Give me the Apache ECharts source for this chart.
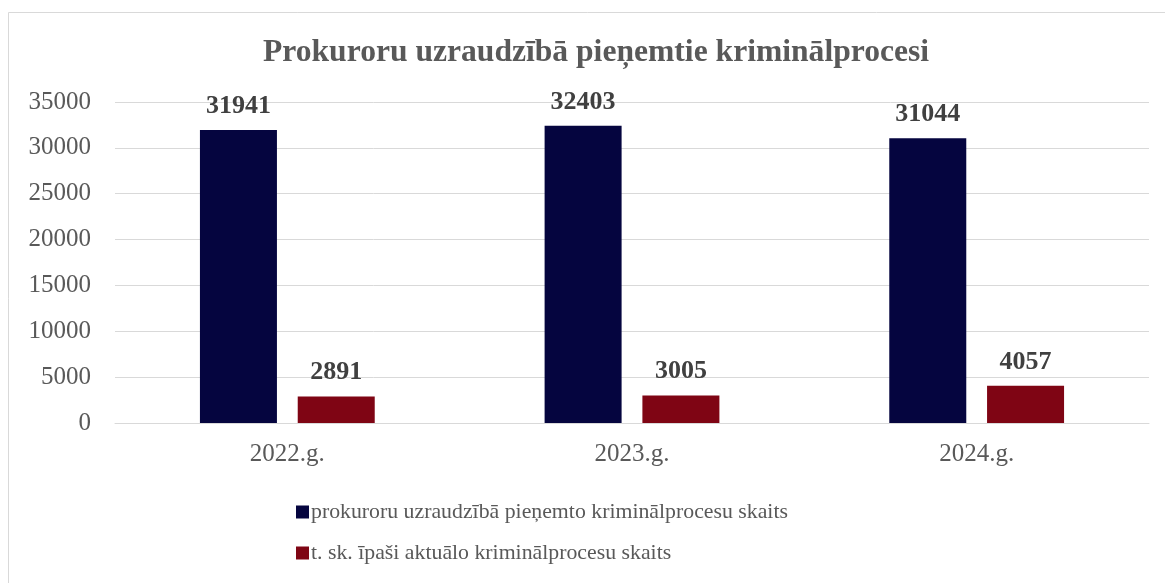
<!DOCTYPE html>
<html>
<head>
<meta charset="utf-8">
<script src="https://cdn.jsdelivr.net/npm/echarts@6/dist/echarts.min.js"></script>
<style>
html,body{margin:0;padding:0;background:#fff;}
#chart{width:1165px;height:583px;}
</style>
</head>
<body>
<div id="chart"></div>
<script>
const titleText = 'Prokuroru uzraudzībā pieņemtie kriminālprocesi';
const categories = ['2022.g.', '2023.g.', '2024.g.'];
const seriesNames = ['prokuroru uzraudzībā pieņemto kriminālprocesu skaits', 't. sk. īpaši aktuālo kriminālprocesu skaits'];
const totalCases = [31941, 32403, 31044];
const priorityCases = [2891, 3005, 4057];
const yTicks = [0, 5000, 10000, 15000, 20000, 25000, 30000, 35000];

const FONT = '"Liberation Serif", "Times New Roman", serif';
const chart = echarts.init(document.getElementById('chart'), null, {renderer: 'canvas'});
const labelStyle = {
  show: true, position: 'top', distance: 11,
  fontFamily: FONT, fontSize: 26, fontWeight: 'bold', color: '#404040'
};
chart.setOption({
  animation: false,
  backgroundColor: '#ffffff',
  graphic: [{
    type: 'rect', silent: true, z: -10,
    shape: {x: 8.5, y: 12.5, width: 1200, height: 700},
    style: {fill: 'none', stroke: '#d9d9d9', lineWidth: 1}
  }],
  title: {
    text: titleText, left: 258, top: 32,
    textStyle: {fontFamily: FONT, fontSize: 31.6, fontWeight: 'bold', color: '#595959'}
  },
  legend: {
    orient: 'vertical', left: 291, top: 496, itemGap: 19,
    itemWidth: 13, itemHeight: 13, icon: 'rect',
    textStyle: {fontFamily: FONT, fontSize: 21.8, color: '#595959', padding: [0, 0, 0, -3]},
    data: seriesNames
  },
  grid: {left: 115, right: 16, top: 102, bottom: 160, containLabel: false},
  xAxis: {
    type: 'category', data: categories,
    axisLine: {lineStyle: {color: '#d9d9d9', width: 1}},
    axisTick: {show: false},
    axisLabel: {fontFamily: FONT, fontSize: 25, color: '#595959', margin: 19}
  },
  yAxis: {
    type: 'value', min: yTicks[0], max: yTicks[yTicks.length - 1], interval: 5000,
    axisLine: {show: false}, axisTick: {show: false},
    splitLine: {lineStyle: {color: '#d9d9d9', width: 1}},
    axisLabel: {fontFamily: FONT, fontSize: 25, color: '#595959', margin: 24,
      formatter: function (v) { return String(v); }}
  },
  series: [
    {name: seriesNames[0], type: 'bar', data: totalCases, barWidth: 77, barGap: '27%',
     itemStyle: {color: '#05053f'}, label: labelStyle},
    {name: seriesNames[1], type: 'bar', data: priorityCases, barWidth: 77,
     itemStyle: {color: '#7f0514'}, label: labelStyle}
  ]
});
</script>
</body>
</html>
